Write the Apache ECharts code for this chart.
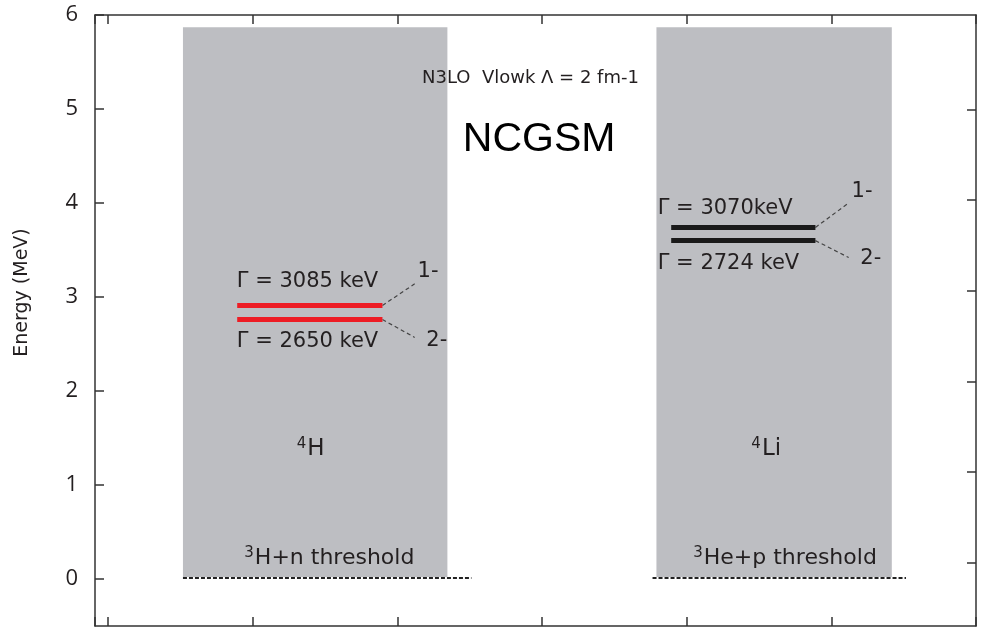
<!DOCTYPE html>
<html>
<head>
<meta charset="utf-8">
<script src="https://cdn.jsdelivr.net/npm/echarts@6/dist/echarts.min.js"></script>
<style>
  html, body { margin: 0; padding: 0; background: #fff; }
  #main { width: 981px; height: 629px; }
</style>
</head>
<body>
<div id="main"></div>
<script>
var chartDom = document.getElementById('main');
var myChart = echarts.init(chartDom);
var option;

// gray bands: [x0, x1, y0, y1]
var bands = [[0.518, 2.346, 0.02, 5.87], [3.791, 5.418, 0.02, 5.87]];
// resonance levels (MeV)
var h4Levels = [2.91, 2.76];
var h4Span = [0.893, 1.897];
var li4Levels = [3.74, 3.60];
var li4Span = [3.893, 4.890];
// threshold dashed lines at 0 MeV
var thresholds = [[0.518, 2.512], [3.764, 5.516]];
var thresholdY = 0.01;
// connector ends for spin labels
var h4Ends = [[2.12, 3.14], [2.12, 2.57]];
var li4Ends = [[5.12, 4.00], [5.12, 3.42]];
var yTicks = [0, 1, 2, 3, 4, 5, 6];
var rightTicks = [0, 1, 2, 3, 4, 5];

// text labels: [x, y, text, fontSize, align]
var labels = [
  [0.89, 3.16, '\u0393 = 3085 keV', 21, 'left'],
  [0.89, 2.53, '\u0393 = 2650 keV', 21, 'left'],
  [2.14, 3.27, '1-', 21, 'left'],
  [2.20, 2.54, '2-', 21, 'left'],
  [3.80, 3.94, '\u0393 = 3070keV', 21, 'left'],
  [3.80, 3.36, '\u0393 = 2724 keV', 21, 'left'],
  [5.14, 4.12, '1-', 21, 'left'],
  [5.20, 3.41, '2-', 21, 'left'],
  [1.40, 1.38, '{sup|4}H', 23, 'center'],
  [4.55, 1.38, '{sup|4}Li', 23, 'center'],
  [1.53, 0.22, '{sup|3}H+n threshold', 22, 'center'],
  [4.68, 0.22, '{sup|3}He+p threshold', 22, 'center'],
  [2.92, 5.33, 'N3LO  Vlowk \u039b = 2 fm-1', 18, 'center']
];

var textColor = '#231f20';
var font = 'DejaVu Sans';

function levelSeries(levels, span, color) {
  return levels.map(function (y) {
    return {
      type: 'line',
      data: [[span[0], y], [span[1], y]],
      symbol: 'none',
      lineStyle: { color: color, width: 5 },
      z: 5
    };
  });
}

function connectorSeries(levels, span, ends) {
  return levels.map(function (y, i) {
    return {
      type: 'line',
      data: [[span[1], y], ends[i]],
      symbol: 'none',
      lineStyle: { color: '#444', width: 1.2, type: [4, 3] },
      z: 4
    };
  });
}

var axisLineStyle = { color: '#333', width: 1.5 };

function frameAxis(position, extra) {
  var a = {
    type: 'value', position: position,
    axisLine: { show: true, onZero: false, lineStyle: axisLineStyle },
    axisTick: { show: true, inside: true, length: 9, lineStyle: axisLineStyle },
    axisLabel: { show: false },
    splitLine: { show: false }
  };
  return Object.assign(a, extra);
}

option = {
  animation: false,
  grid: { left: 95, right: 5, top: 15, bottom: 3 },
  xAxis: [
    frameAxis('bottom', { min: -0.09, max: 6 }),
    frameAxis('top', { min: -0.09, max: 6 })
  ],
  yAxis: [
    frameAxis('left', {
      min: -0.5, max: 6,
      name: 'Energy (MeV)', nameLocation: 'middle', nameRotate: 90, nameGap: 63,
      nameTextStyle: { fontSize: 19, color: textColor, fontFamily: font, padding: [0, 0, 0, 56] },
      axisTick: { show: true, inside: true, length: 9, customValues: yTicks, lineStyle: axisLineStyle },
      axisLabel: { show: true, customValues: yTicks, fontSize: 22, color: textColor, fontFamily: 'Open Sans', margin: 17 }
    }),
    frameAxis('right', {
      min: -0.695, max: 6.04,
      axisTick: { show: true, inside: true, length: 9, customValues: rightTicks, lineStyle: axisLineStyle }
    })
  ],
  series: [
    {
      type: 'custom',
      data: bands,
      z: 1,
      renderItem: function (params, api) {
        var p0 = api.coord([api.value(0), api.value(3)]);
        var p1 = api.coord([api.value(1), api.value(2)]);
        return {
          type: 'rect',
          shape: { x: p0[0], y: p0[1], width: p1[0] - p0[0], height: p1[1] - p0[1] },
          style: { fill: '#bdbec2' }
        };
      }
    }
  ]
    .concat(thresholds.map(function (t) {
      return {
        type: 'line',
        data: [[t[0], thresholdY], [t[1], thresholdY]],
        symbol: 'none',
        lineStyle: { color: '#222', width: 2, type: [4, 2] },
        z: 3
      };
    }))
    .concat(levelSeries(h4Levels, h4Span, '#ed1c24'))
    .concat(levelSeries(li4Levels, li4Span, '#1a1a1a'))
    .concat(connectorSeries(h4Levels, h4Span, h4Ends))
    .concat(connectorSeries(li4Levels, li4Span, li4Ends))
    .concat([
      {
        type: 'scatter',
        symbolSize: 0,
        itemStyle: { opacity: 1 },
        z: 10,
        data: labels.map(function (l) {
          return {
            value: [l[0], l[1]],
            label: {
              show: true,
              position: 'inside',
              align: l[4],
              verticalAlign: 'middle',
              formatter: l[2],
              fontSize: l[3],
              fontFamily: font,
              color: textColor,
              rich: {
                sup: { fontSize: 15, fontFamily: font, color: textColor, padding: [0, 1, 10, 0] }
              }
            }
          };
        })
      },
      {
        type: 'scatter',
        symbolSize: 0,
        itemStyle: { opacity: 1 },
        z: 10,
        data: [{
          value: [2.98, 4.67],
          label: {
            show: true, position: 'inside', align: 'center', verticalAlign: 'middle',
            formatter: 'NCGSM', fontSize: 41, fontFamily: 'Liberation Sans', color: '#000'
          }
        }]
      }
    ])
};

option && myChart.setOption(option);
</script>
</body>
</html>
